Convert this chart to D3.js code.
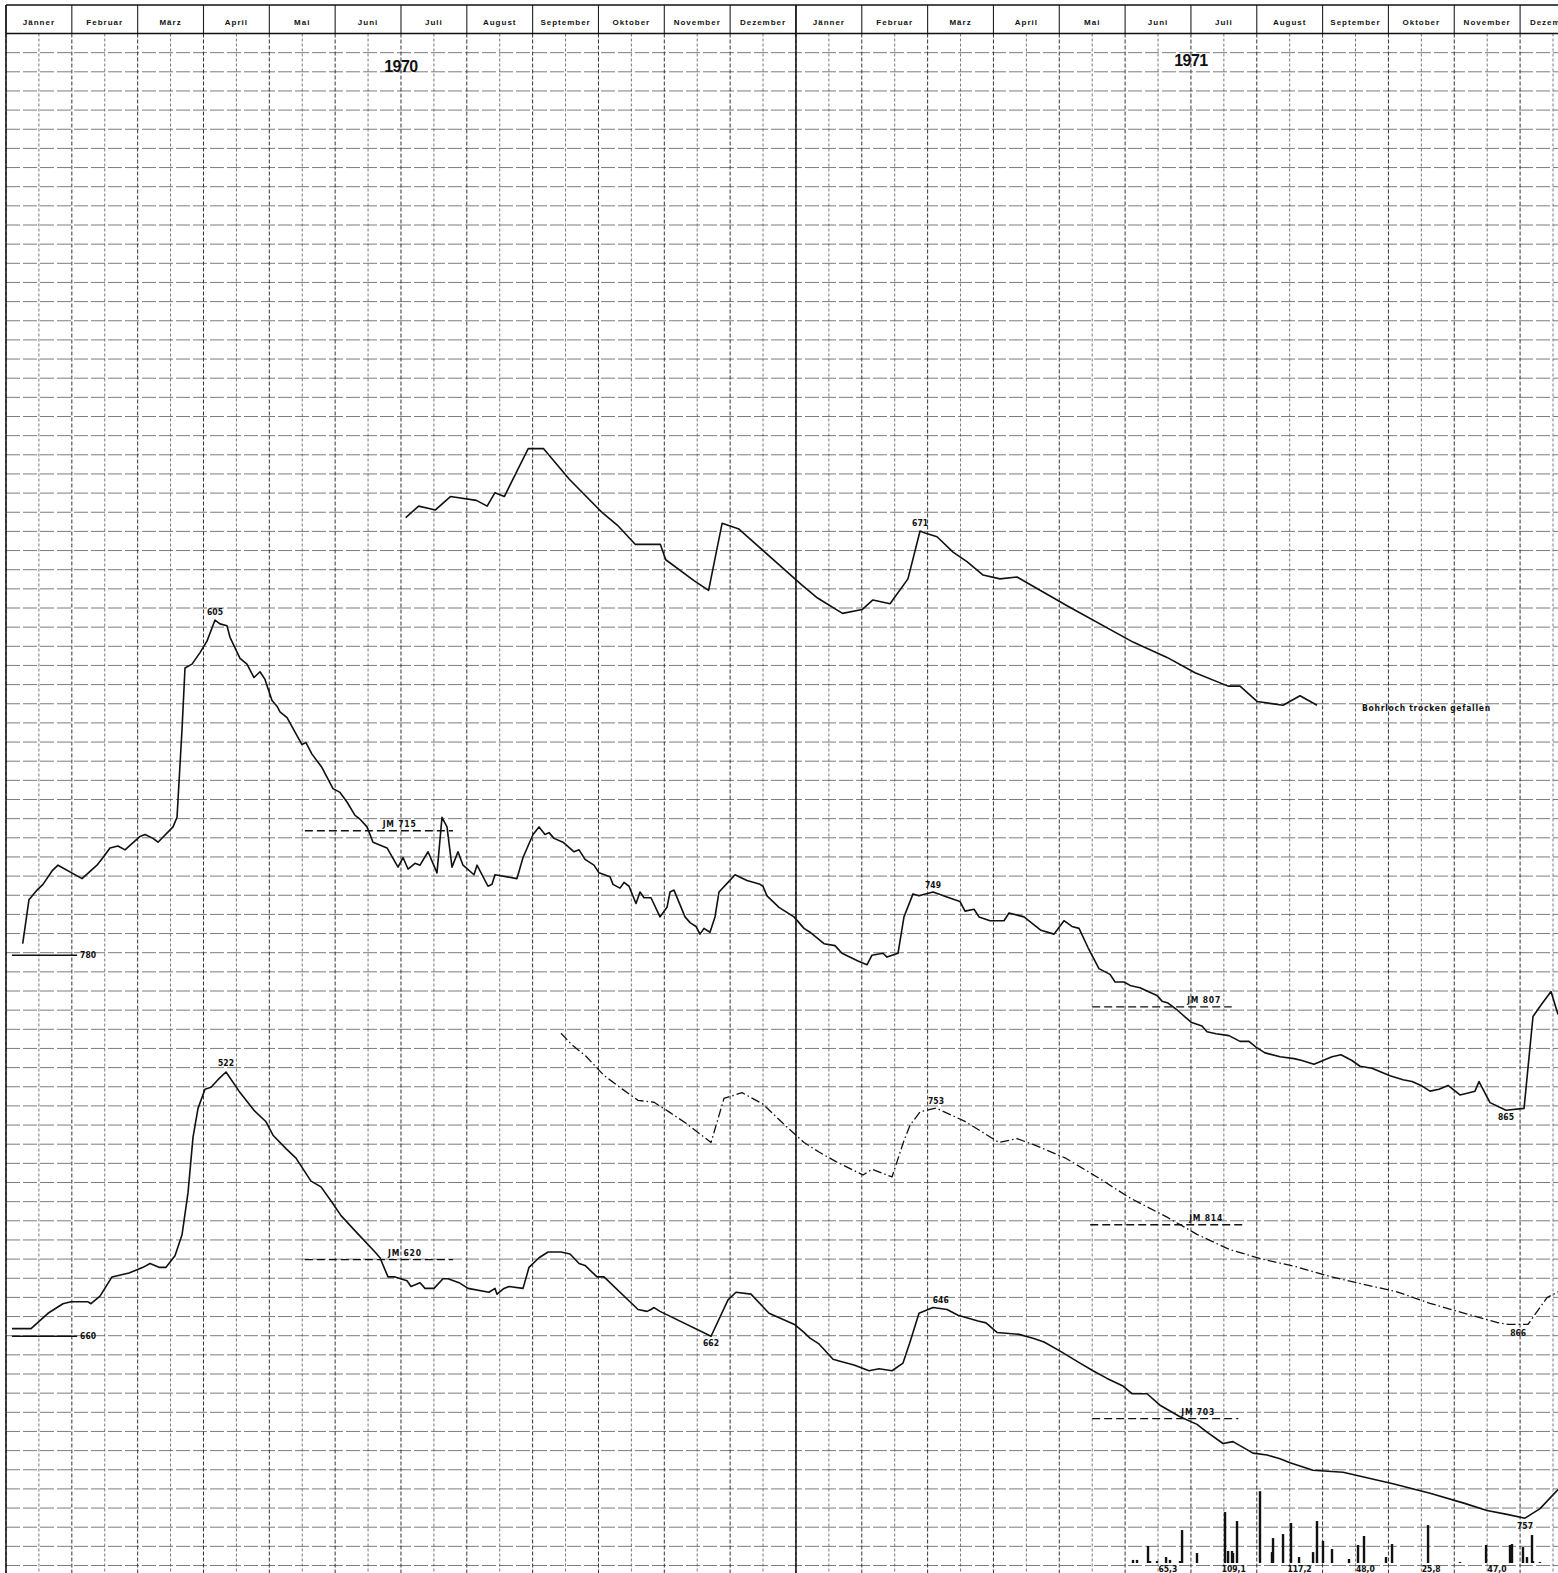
<!DOCTYPE html>
<html lang="de">
<head>
<meta charset="utf-8">
<title>Grundwasserganglinien 1970–1971</title>
<script src="https://cdn.jsdelivr.net/npm/d3@7"></script>
<style>
  body { margin: 0; background: #fff; }
  svg { display: block; font-family: "Liberation Sans", Arial, sans-serif; }
  .grid-h { stroke: #6e6e6e; stroke-width: 0.9; stroke-dasharray: 14,3; }
  .grid-month { stroke: #333; stroke-width: 1; stroke-dasharray: 4,2; }
  .grid-half { stroke: #555; stroke-width: 0.8; stroke-dasharray: 3,2; }
  .frame { stroke: #111; stroke-width: 1.5; }
  .head-sep { stroke: #222; stroke-width: 1.1; }
  .month-label { font-size: 8px; font-weight: bold; letter-spacing: 1px; text-anchor: middle; fill: #111; }
  .year-label { font-size: 16px; font-weight: bold; letter-spacing: -0.5px; text-anchor: middle; fill: #111; }
  .curve { fill: none; stroke: #111; stroke-width: 1.6; stroke-linejoin: round; }
  .dashdot { stroke-width: 1.3; stroke-dasharray: 9,3,1.5,3; }
  .ref-line { stroke: #111; stroke-width: 1.4; }
  .ref-dashed { stroke-dasharray: 8,4; }
  .small-label { font-family: "Liberation Sans Narrow", "DejaVu Sans Condensed", Arial, sans-serif; font-size: 8.5px; font-weight: bold; fill: #111; }
  .bar { fill: #111; }
</style>
</head>
<body>
<div id="chart"></div>
<script>
// Monate und Jahre (Zeit als Monatsindex ab Jänner 1970)
const monthNames = ["Jänner", "Februar", "März", "April", "Mai", "Juni", "Juli",
  "August", "September", "Oktober", "November", "Dezember"];
const years = ["1970", "1971"];

// Messstelle A – Flurabstand in cm (Bohrloch trocken gefallen)
const tA = [6.072,6.268,6.523,6.751,7.146,7.309,7.428,7.570,7.743,7.933,
  8.167,8.557,9.045,9.289,9.561,9.941,10.022,10.456,10.673,10.878,
  11.134,12.083,12.328,12.707,13.005,13.169,13.429,13.701,13.885,13.961,
  14.143,14.386,14.598,14.842,15.100,15.358,16.118,17.120,17.637,18.062,
  18.564,18.746,19.004,19.399,19.657,19.915];
const vA = [664,658,660,653,655,658,651,653,641,628,
  628,644,661,668,678,678,686,697,702,667,
  670,699,706,714,712,707,709,696,671,672,
  674,682,687,694,696,695,710,729,737,745,
  752,752,760,762,757,762];

// Messstelle B
const tB = [0.254,0.349,0.471,0.562,0.699,0.790,1.155,1.382,1.474,1.580,
  1.701,1.808,2.036,2.112,2.233,2.309,2.537,2.598,2.674,2.719,
  2.826,2.947,3.053,3.175,3.251,3.357,3.403,3.555,3.661,3.767,
  3.859,3.934,4.041,4.117,4.162,4.269,4.496,4.557,4.648,4.800,
  4.967,5.074,5.180,5.302,5.378,5.484,5.575,5.788,5.955,6.031,
  6.107,6.213,6.289,6.411,6.547,6.623,6.699,6.775,6.866,6.942,
  7.109,7.155,7.322,7.383,7.428,7.762,7.854,8.006,8.097,8.188,
  8.249,8.325,8.461,8.629,8.705,8.796,8.932,9.008,9.175,9.221,
  9.327,9.388,9.464,9.570,9.631,9.692,9.798,9.935,10.041,10.087,
  10.147,10.315,10.391,10.482,10.542,10.603,10.694,10.770,10.831,10.968,
  11.074,11.256,11.454,11.499,11.560,11.742,11.970,12.122,12.213,12.426,
  12.593,12.699,12.942,13.079,13.155,13.322,13.383,13.550,13.641,13.778,
  13.869,14.082,14.325,14.492,14.568,14.705,14.781,14.948,15.160,15.236,
  15.464,15.722,15.920,16.071,16.193,16.300,16.436,16.603,16.771,16.847,
  16.983,17.090,17.226,17.348,17.485,17.561,17.652,17.804,18.001,18.168,
  18.244,18.381,18.578,18.745,18.882,18.988,19.125,19.353,19.566,19.687,
  19.869,20.006,20.143,20.279,20.446,20.568,20.750,20.887,21.024,21.221,
  21.358,21.495,21.631,21.768,21.905,22.087,22.209,22.315,22.376,22.543,
  22.786,23.060,23.196,23.318,23.470,23.576];
const vB = [774,751,746,743,736,733,740,733,729,724,
  723,725,718,717,719,721,713,708,662,630,
  628,622,616,605,607,608,614,625,628,635,
  632,636,647,650,653,656,670,669,675,682,
  693,695,700,707,709,713,721,724,734,729,
  735,732,733,726,737,708,713,734,726,733,
  738,733,744,743,738,740,729,717,713,717,
  716,719,721,726,725,730,733,737,739,743,
  745,742,744,753,747,750,750,760,755,747,
  746,760,763,765,769,766,768,760,747,742,
  738,741,743,744,749,755,760,766,768,774,
  775,779,783,785,780,779,781,779,760,748,
  749,747,750,752,757,756,760,762,762,758,
  760,767,769,762,765,766,776,787,790,794,
  794,796,797,799,801,804,805,809,815,817,
  820,821,822,825,825,828,831,833,834,835,
  837,835,833,832,835,838,839,841,843,845,
  846,848,851,850,848,853,852,851,846,857,
  861,860,812,806,799,811];

// Messstelle C
const tC = [0.091,0.380,0.638,0.866,0.987,1.246,1.291,1.428,1.610,1.868,
  2.081,2.188,2.324,2.431,2.567,2.674,2.765,2.841,2.917,3.023,
  3.114,3.220,3.342,3.540,3.767,3.950,4.056,4.253,4.405,4.633,
  4.785,4.952,5.089,5.332,5.605,5.681,5.803,5.909,6.092,6.152,
  6.289,6.365,6.502,6.638,6.715,6.882,7.018,7.337,7.428,7.459,
  7.565,7.641,7.854,7.945,8.097,8.234,8.431,8.568,8.705,8.796,
  8.978,9.084,9.601,9.738,9.798,9.844,9.935,10.710,10.968,11.089,
  11.317,11.591,11.986,12.122,12.213,12.350,12.563,12.669,12.882,13.110,
  13.262,13.459,13.626,13.733,13.869,14.082,14.295,14.462,14.766,14.887,
  15.054,15.388,15.601,15.768,16.026,16.315,16.512,16.725,16.968,17.105,
  17.333,17.530,17.834,18.092,18.244,18.487,18.639,18.943,19.156,19.353,
  19.505,19.854,20.310,21.069,21.632,22.133,22.498,22.801,23.075,23.303,
  23.576];
const vC = [656,656,648,643,642,642,643,639,629,627,
  624,622,624,624,618,607,585,556,541,531,
  530,526,522,532,542,548,555,562,567,579,
  582,590,597,606,616,619,629,629,631,634,
  632,635,635,630,630,632,635,637,635,638,
  635,634,635,624,619,616,616,617,622,623,
  629,629,646,647,646,645,647,660,641,637,
  638,648,654,658,661,664,672,673,675,678,
  677,678,674,663,648,645,646,649,652,653,
  658,659,661,663,668,674,678,682,686,690,
  690,696,702,706,710,716,715,721,722,724,
  726,730,731,737,742,747,751,753,755,750,
  740];

// Messstelle D (strichpunktiert)
const tD = [8.431,8.598,8.811,9.084,9.358,9.601,9.844,10.072,10.330,10.710,
  10.907,11.181,11.500,11.803,12.122,12.350,12.608,13.018,13.155,13.459,
  13.641,13.733,13.885,14.128,14.568,15.084,15.358,15.601,16.087,16.573,
  17.075,17.637,18.092,18.593,19.094,19.611,20.112,20.613,21.130,21.631,
  22.133,22.649,22.816,23.120,23.409,23.576];
const vD = [714,720,726,736,743,749,750,755,761,771,
  748,745,751,761,771,776,781,788,785,789,
  770,762,755,753,760,771,769,772,779,789,
  800,810,819,827,832,836,841,845,849,855,
  860,865,866,866,852,849];

// Niederschlag (Tageswerte in mm) und Monatssummen
const tRain = [17.120,17.181,17.348,17.379,17.485,17.622,17.682,17.834,17.865,18.092,
  18.518,18.564,18.624,18.639,18.700,19.049,19.231,19.247,19.399,19.520,
  19.642,19.855,19.915,20.006,20.143,20.401,20.538,20.629,20.963,21.055,
  21.602,22.087,22.483,22.847,22.877,23.044,23.105,23.181,23.196,23.300];
const rain = [1.6,1.6,8.9,1.0,1.0,3.1,1.6,1.0,17.2,5.2,
  26.6,6.3,6.3,5.2,21.9,37.5,5.7,13.0,15.1,20.9,
  3.1,5.7,21.9,11.5,7.3,2.1,9.4,14.1,3.1,9.9,
  19.8,0.5,9.4,9.4,9.9,8.3,3.1,14.6,1.0,0.5];
const rainMonths = [17, 18, 19, 20, 21, 22, 23];
const rainSums = ["65,3", "109,1", "117,2", "48,0", "25,8", "47,0", "2"];

// Jahresmittel und Bezugslinien
const refLines = [
  {series: "B", v: 780, t0: 0.09, t1: 1.08, label: "780", dashed: false},
  {series: "C", v: 660, t0: 0.09, t1: 1.08, label: "660", dashed: false},
  {series: "B", v: 715, t0: 4.54, t1: 6.79, tl: 5.98, label: "JM 715", dashed: true},
  {series: "C", v: 620, t0: 4.54, t1: 6.79, tl: 6.06, label: "JM 620", dashed: true},
  {series: "B", v: 807, t0: 16.50, t1: 18.62, tl: 18.20, label: "JM 807", dashed: true},
  {series: "D", v: 814, t0: 16.47, t1: 18.78, tl: 18.23, label: "JM 814", dashed: true},
  {series: "C", v: 703, t0: 16.50, t1: 18.72, tl: 18.11, label: "JM 703", dashed: true}
];

// Extremwerte
const peaks = [
  {series: "B", t: 3.175, v: 605, label: "605", dy: -5},
  {series: "A", t: 13.885, v: 671, label: "671", dy: -5},
  {series: "B", t: 14.082, v: 747, label: "749", dy: -4},
  {series: "B", t: 22.786, v: 861, label: "865", dy: 10},
  {series: "C", t: 3.342, v: 522, label: "522", dy: -6},
  {series: "C", t: 10.71, v: 660, label: "662", dy: 10},
  {series: "C", t: 14.2, v: 645, label: "646", dy: -5},
  {series: "C", t: 23.075, v: 755, label: "757", dy: 11},
  {series: "D", t: 14.128, v: 753, label: "753", dy: -4},
  {series: "D", t: 22.97, v: 866, label: "866", dy: 12}
];

// Dimensionen
const width = 1558;
const height = 1573;
const headerTop = 5;
const headerBottom = 33.5;
const rowPx = 19.15;   // 1 Zeile = 10 cm
const rows = 80;

const x = d3.scaleLinear().domain([0, 24]).range([6, 6 + 24 * 65.83]);
const y = d3.scaleLinear().domain([0, rows * 10]).range([headerBottom, headerBottom + rows * rowPx]);
const yRain = d3.scaleLinear().domain([0, 10]).range([1563, 1563 - rowPx]);

// jede Ganglinie hat ihren eigenen Bezugswert am oberen Rand
const series = [
  {name: "A", t: tA, v: vA, datum: 411.2, dashdot: false},
  {name: "B", t: tB, v: vB, datum: 298.7, dashdot: false},
  {name: "C", t: tC, v: vC, datum: -20.3, dashdot: false},
  {name: "D", t: tD, v: vD, datum: 191.9, dashdot: true}
];
const datumOf = name => series.find(s => s.name === name).datum;

const svg = d3.select("#chart")
  .append("svg")
  .attr("width", width)
  .attr("height", height);

// Raster
const gH = svg.append("g");
gH.selectAll("line")
  .data(d3.range(0, rows * 10 + 1, 10))
  .join("line")
  .attr("class", "grid-h")
  .attr("x1", x(0)).attr("x2", width)
  .attr("y1", d => y(d)).attr("y2", d => y(d));

const gV = svg.append("g");
gV.selectAll("line")
  .data(d3.range(0, 48.5, 1).map(d => d / 2))
  .join("line")
  .attr("class", d => d % 1 === 0 ? "grid-month" : "grid-half")
  .attr("x1", d => x(d)).attr("x2", d => x(d))
  .attr("y1", headerBottom).attr("y2", height);

// Kopfzeile
svg.append("g").selectAll("line")
  .data(d3.range(0, 25))
  .join("line")
  .attr("class", "head-sep")
  .attr("x1", d => x(d)).attr("x2", d => x(d))
  .attr("y1", headerTop).attr("y2", headerBottom);

svg.append("line").attr("class", "frame")
  .attr("x1", x(0)).attr("x2", width).attr("y1", headerTop).attr("y2", headerTop);
svg.append("line").attr("class", "frame").attr("stroke-width", 1.2)
  .attr("x1", x(0)).attr("x2", width).attr("y1", headerBottom).attr("y2", headerBottom);
svg.append("line").attr("class", "frame")
  .attr("x1", x(0)).attr("x2", x(0)).attr("y1", headerTop).attr("y2", height);
// Jahreswechsel
svg.append("line").attr("class", "frame")
  .attr("x1", x(12)).attr("x2", x(12)).attr("y1", headerTop).attr("y2", height);

svg.append("g").selectAll("text")
  .data(d3.range(24))
  .join("text")
  .attr("class", "month-label")
  .attr("x", i => x(i + 0.5))
  .attr("y", 25)
  .text(i => monthNames[i % 12]);

svg.append("g").selectAll("text")
  .data(years)
  .join("text")
  .attr("class", "year-label")
  .attr("x", (d, i) => x(i * 12 + 6))
  .attr("y", (d, i) => i === 0 ? 72 : 66)
  .text(d => d);

// Niederschlagsbalken
svg.append("g").selectAll("rect")
  .data(d3.zip(tRain, rain))
  .join("rect")
  .attr("class", "bar")
  .attr("x", d => x(d[0]) - 1.2)
  .attr("width", 2.4)
  .attr("y", d => yRain(d[1]))
  .attr("height", d => yRain(0) - yRain(d[1]));

svg.append("g").selectAll("text")
  .data(d3.zip(rainMonths, rainSums))
  .join("text")
  .attr("class", "small-label")
  .attr("text-anchor", "middle")
  .attr("x", d => x(d[0] + 0.65))
  .attr("y", 1572)
  .text(d => d[1]);

// Bezugslinien und Jahresmittel
const gRef = svg.append("g");
refLines.forEach(r => {
  const yy = y(r.v - datumOf(r.series));
  gRef.append("line")
    .attr("class", r.dashed ? "ref-line ref-dashed" : "ref-line")
    .attr("x1", x(r.t0)).attr("x2", x(r.t1))
    .attr("y1", yy).attr("y2", yy);
  gRef.append("text")
    .attr("class", "small-label")
    .attr("text-anchor", r.dashed ? "middle" : "start")
    .attr("x", r.dashed ? x(r.tl) : x(r.t1) + 3)
    .attr("y", r.dashed ? yy - 4 : yy + 3)
    .attr("letter-spacing", r.dashed ? 0.8 : 0)
    .text(r.label);
});

// Ganglinien
series.forEach(s => {
  const line = d3.line()
    .x(d => x(d[0]))
    .y(d => y(d[1] - s.datum));
  svg.append("path")
    .datum(d3.zip(s.t, s.v))
    .attr("class", s.dashdot ? "curve dashdot" : "curve")
    .attr("d", line);
});

// Beschriftung der Extremwerte
svg.append("g").selectAll("text")
  .data(peaks)
  .join("text")
  .attr("class", "small-label")
  .attr("text-anchor", "middle")
  .attr("x", d => x(d.t))
  .attr("y", d => y(d.v - datumOf(d.series)) + d.dy)
  .text(d => d.label);

svg.append("text")
  .attr("class", "small-label")
  .attr("letter-spacing", 0.7)
  .attr("x", x(20.6))
  .attr("y", y(765 - datumOf("A")))
  .text("Bohrloch trocken gefallen");
</script>
</body>
</html>
